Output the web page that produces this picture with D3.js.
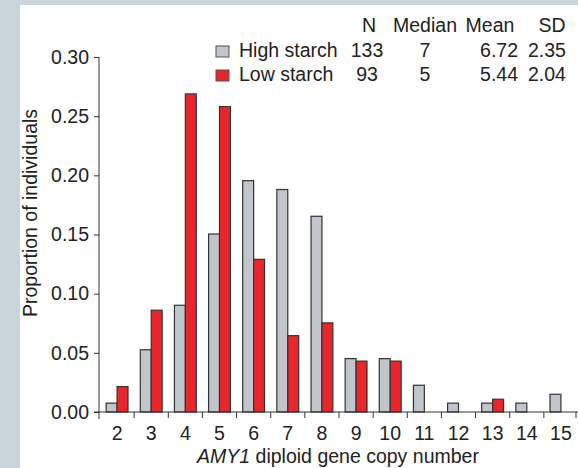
<!DOCTYPE html>
<meta charset="utf-8">
<style>
body { margin: 0; background: #c9d4db; }
svg { display: block; }
text { font-family: "Liberation Sans", Arial, sans-serif; fill: #222; }
</style>
<body>
<script src="https://d3js.org/d3.v7.min.js"></script>
<script>
// copy numbers on the x axis
var copyNumbers = [2, 3, 4, 5, 6, 7, 8, 9, 10, 11, 12, 13, 14, 15];
// proportion of individuals per copy number
var highStarch = [0.0075, 0.0526, 0.0902, 0.1504, 0.1955, 0.188, 0.1654, 0.0451, 0.0451, 0.0226, 0.0075, 0.0075, 0.0075, 0.015];
var lowStarch  = [0.0215, 0.086, 0.2688, 0.2581, 0.129, 0.0645, 0.0753, 0.043, 0.043, 0, 0, 0.0108, 0, 0];
var yTicks = [0, 0.05, 0.10, 0.15, 0.20, 0.25, 0.30];
// summary table
var tableHeader = ["N", "Median", "Mean", "SD"];
var seriesNames = ["High starch", "Low starch"];
var tableRows = [
  ["133", "7", "6.72", "2.35"],
  ["93", "5", "5.44", "2.04"]
];

var W = 578, H = 468;
var fs = 19.5;
var colors = {high: "#c1c6cd", low: "#e8262c"};

var svg = d3.select("body").append("svg")
    .attr("width", W)
    .attr("height", H);

// white panel
svg.append("rect")
    .attr("x", 20).attr("y", 5)
    .attr("width", W - 20).attr("height", H - 5)
    .attr("fill", "#fff");

// scales
var x = d3.scaleBand()
    .domain(copyNumbers)
    .range([100, 578])
    .paddingInner(0.36)
    .paddingOuter(0.18);
var x1 = d3.scaleBand()
    .domain(["high", "low"])
    .range([0, x.bandwidth()]);
var y = d3.scaleLinear().domain([0, 0.30]).range([412, 57]);

var data = copyNumbers.map(function(c, i) {
  return {c: c, high: highStarch[i], low: lowStarch[i]};
});

// bars
var groups = svg.append("g").selectAll("g")
    .data(data)
  .enter().append("g")
    .attr("transform", function(d) { return "translate(" + x(d.c) + ",0)"; });
groups.selectAll("rect")
    .data(function(d) {
      return ["high", "low"].map(function(k) { return {k: k, v: d[k]}; })
        .filter(function(e) { return e.v > 0; });
    })
  .enter().append("rect")
    .attr("x", function(e) { return x1(e.k); })
    .attr("width", x1.bandwidth())
    .attr("y", function(e) { return y(e.v); })
    .attr("height", function(e) { return y(0) - y(e.v); })
    .attr("fill", function(e) { return colors[e.k]; })
    .attr("stroke", "#333")
    .attr("stroke-width", 1.2);

// y axis
var yAxis = svg.append("g")
    .attr("transform", "translate(99,0)")
    .call(d3.axisLeft(y).tickValues(yTicks).tickFormat(d3.format(".2f")).tickSize(5).tickPadding(5));
yAxis.select(".domain").remove();
yAxis.selectAll("line").attr("stroke", "#333");
yAxis.selectAll("text").style("font-size", fs + "px").attr("fill", "#222")
    .attr("font-family", "Liberation Sans, Arial, sans-serif");
svg.append("line")
    .attr("x1", 99).attr("x2", 99)
    .attr("y1", y(0.30)).attr("y2", y(0) + 7)
    .attr("stroke", "#333");

// x axis: line, ticks at category boundaries, labels centred
svg.append("line")
    .attr("x1", 94).attr("x2", 578)
    .attr("y1", y(0)).attr("y2", y(0))
    .attr("stroke", "#333");
var step = x.step();
var bounds = d3.range(copyNumbers.length + 1).map(function(i) { return x.range()[0] + i * step; });
svg.append("g").selectAll("line")
    .data(bounds.slice(1))
  .enter().append("line")
    .attr("x1", function(d) { return Math.min(d, 576); })
    .attr("x2", function(d) { return Math.min(d, 576); })
    .attr("y1", y(0)).attr("y2", y(0) + 6)
    .attr("stroke", "#333");
svg.append("g").selectAll("text")
    .data(copyNumbers)
  .enter().append("text")
    .attr("x", function(d) { return x(d) + x.bandwidth() / 2; })
    .attr("y", 440)
    .attr("text-anchor", "middle")
    .style("font-size", fs + "px")
    .text(function(d) { return d; });

// axis titles
svg.append("text")
    .attr("transform", "translate(37,213) rotate(-90)")
    .attr("text-anchor", "middle")
    .style("font-size", fs + "px")
    .text("Proportion of individuals");
var xt = svg.append("text")
    .attr("x", 338).attr("y", 463)
    .attr("text-anchor", "middle")
    .style("font-size", fs + "px");
xt.append("tspan").style("font-style", "italic").text("AMY1");
xt.append("tspan").text(" diploid gene copy number");

// legend + summary table
var rowY = [57, 81];
var headerY = 32;
var colX = [367, 425, 518, 547];
var colAnchor = ["middle", "middle", "end", "middle"];
var headX = [369, 425, 490, 552];
svg.append("g").selectAll("text")
    .data(tableHeader)
  .enter().append("text")
    .attr("x", function(d, i) { return headX[i]; })
    .attr("y", headerY)
    .attr("text-anchor", "middle")
    .style("font-size", fs + "px")
    .text(function(d) { return d; });
var keys = ["high", "low"];
seriesNames.forEach(function(name, r) {
  svg.append("rect")
    .attr("x", 216).attr("y", rowY[r] - 11)
    .attr("width", 13).attr("height", 11)
    .attr("fill", colors[keys[r]])
    .attr("stroke", "#555")
    .attr("stroke-width", 1);
  svg.append("text")
    .attr("x", 239).attr("y", rowY[r])
    .style("font-size", fs + "px")
    .text(name);
  tableRows[r].forEach(function(v, c) {
    svg.append("text")
      .attr("x", colX[c]).attr("y", rowY[r])
      .attr("text-anchor", colAnchor[c])
      .style("font-size", fs + "px")
      .text(v);
  });
});
</script>
</body>
